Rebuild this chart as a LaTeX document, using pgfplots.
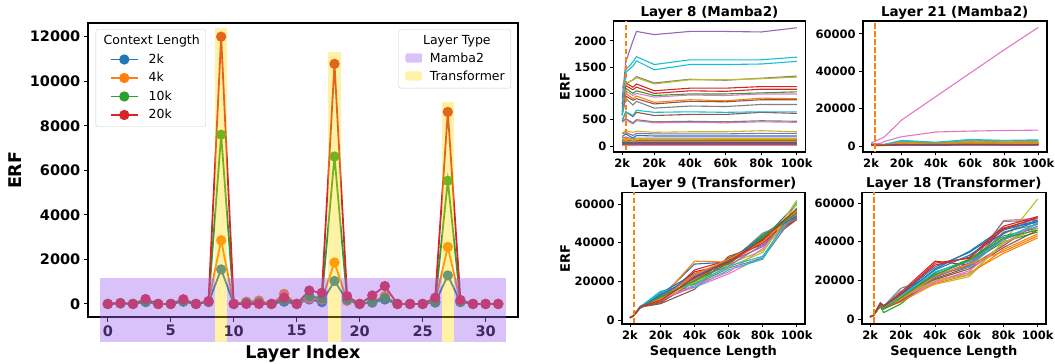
\documentclass[border=0pt]{standalone}
\usepackage{pgfplots}
\pgfplotsset{compat=1.18}
\usepackage{pgfplotstable}
\usepackage{fontspec}
\setmainfont{DejaVu Sans}
\definecolor{tabblue}{HTML}{1F77B4}
\definecolor{taborange}{HTML}{FF7F0E}
\definecolor{tabgreen}{HTML}{2CA02C}
\definecolor{tabred}{HTML}{D62728}
\definecolor{tabpurple}{HTML}{9467BD}
\definecolor{tabbrown}{HTML}{8C564B}
\definecolor{tabpink}{HTML}{E377C2}
\definecolor{tabgray}{HTML}{7F7F7F}
\definecolor{tabolive}{HTML}{BCBD22}
\definecolor{tabcyan}{HTML}{17BECF}
\definecolor{spanpurple}{RGB}{160,100,240}
\definecolor{spanyellow}{RGB}{255,215,0}
\pgfplotscreateplotcyclelist{tabten}{tabblue\\taborange\\tabgreen\\tabred\\tabpurple\\tabbrown\\tabpink\\tabgray\\tabolive\\tabcyan\\}

% ERF per layer, for four context lengths
\pgfplotstableread{
layer c2k c4k c10k c20k
0 0 0 0 0
1 20 30 30 40
2 0 0 0 0
3 80 150 100 220
4 0 0 0 0
5 0 0 0 0
6 100 150 120 210
7 0 0 0 0
8 80 100 100 130
9 1550 2860 7600 12000
10 0 0 0 0
11 30 100 50 0
12 30 150 50 0
13 0 0 0 0
14 100 450 150 280
15 0 0 0 0
16 200 250 350 600
17 80 200 250 500
18 1030 1860 6620 10780
19 150 150 200 350
20 0 0 0 0
21 60 100 100 380
22 200 350 250 800
23 0 0 0 0
24 0 0 0 0
25 0 0 0 0
26 60 100 80 280
27 1280 2560 5530 8620
28 80 100 100 180
29 0 0 0 0
30 0 0 0 0
31 0 0 0 0
}\tabMain

% Layer 8 (Mamba2): x (k) then 32 series
\pgfplotstableread[header=false]{
2 180 650 700 800 900 480 650 1100 1150 600 60 120 40 750 230 600 450 600 250 580 100 80 20 70 150 30 10 470 130 500 50 90
4 230 1000 1100 1200 1600 650 1050 1180 1200 1450 70 140 50 1150 260 950 500 900 290 1400 110 90 25 80 170 35 12 520 150 650 55 100
8 150 900 1000 1120 2000 560 960 1260 1250 1600 50 110 30 1070 200 870 420 780 260 1520 90 70 15 60 130 25 8 440 120 580 45 80
10 200 950 1050 1180 2180 640 1000 1320 1300 1700 60 130 40 1120 240 900 480 850 280 1620 100 80 20 70 150 30 10 500 140 680 50 90
20 190 830 960 1050 2120 580 930 1200 1180 1550 60 120 40 1000 230 800 440 720 260 1450 100 80 20 70 150 30 10 460 130 640 50 90
40 190 880 990 1100 2180 600 970 1270 1260 1640 60 120 40 1050 230 850 450 760 270 1550 100 80 20 70 150 30 10 470 130 650 50 90
60 190 860 990 1100 2180 600 960 1250 1260 1640 60 120 40 1040 230 840 440 750 270 1550 100 80 20 70 150 30 10 460 140 640 50 90
80 190 910 1010 1130 2170 640 990 1290 1280 1640 60 120 40 1080 240 880 460 790 290 1560 100 80 20 70 150 30 10 480 140 650 50 90
100 190 900 1030 1130 2250 620 990 1330 1310 1690 60 120 40 1080 240 880 450 790 270 1610 100 80 20 70 150 30 10 470 140 650 50 90
}\tabEight

% Layer 21 (Mamba2)
\pgfplotstableread[header=false]{
2 600 1000 800 900 700 800 1500 900 800 1200 500 900 700 800 600 700 1000 800 700 1100 400 800 600 700
4 500 700 600 600 500 600 2500 700 600 900 400 700 500 600 500 500 1200 600 600 800 300 600 500 500
8 400 600 500 500 400 500 4000 600 500 700 300 600 400 500 400 400 1500 500 500 700 300 500 400 400
10 500 800 700 600 500 600 5000 700 600 900 400 700 500 600 500 500 2500 600 600 800 300 600 500 500
20 800 2500 1500 1200 900 1400 14000 1800 1600 3000 600 2000 1100 1000 700 1200 5000 1300 1400 2700 500 1800 900 800
40 600 1800 1200 1000 800 1100 26500 1500 1300 2000 500 1500 900 900 600 1000 7500 1100 1200 1800 400 1400 800 700
60 900 2800 1600 1300 1000 1500 39000 2000 1800 3500 700 2300 1200 1100 800 1300 8000 1400 1500 3200 500 2000 1000 900
80 700 2200 1400 1100 900 1300 51500 1800 1600 3000 600 2000 1100 1000 700 1200 8300 1300 1400 2800 500 1800 900 800
100 800 2400 1500 1200 900 1400 63500 1900 1700 3300 600 2100 1100 1000 700 1200 8500 1300 1500 3000 500 1900 900 800
}\tabTwentyOne

% Layer 9 (Transformer)
\pgfplotstableread[header=false]{
2 1300 1250 1300 1350 1300 1200 1300 1300 1250 1300 1280 1300 1320 1300 1310 1280 1300 1290 1300 1320 1300 1270 1310 1300
4 2300 2200 2250 2300 2200 2100 2200 2300 2200 2300 2250 2250 2300 2250 2300 2200 2250 2200 2300 2300 2250 2200 2250 2300
8 6800 6500 6700 6600 6400 6200 6600 7000 6800 7200 6900 6700 6800 6600 6900 6400 6700 6600 6800 7100 6800 6500 6700 6600
10 7600 7400 7800 7500 7300 7000 7700 8000 7900 8200 7800 7600 7700 7500 7900 7200 7600 7500 7700 8100 7700 7400 7600 7500
20 12000 11000 10500 9500 13000 8500 11000 10000 12000 15000 14000 10000 12500 11000 13500 9000 10500 12000 11500 14500 13000 10800 11800 10200
40 29000 30500 22000 26000 23000 16000 17000 18000 20000 17000 24000 21000 19000 25000 21500 20000 18000 24000 19500 18500 22500 23500 20500 22000
60 30000 30000 31000 31000 30000 33000 24000 27000 29000 26000 30000 32000 30000 29000 28000 32000 25000 29500 27500 28000 30500 31500 29500 30200
80 42000 40000 43000 40000 38000 39000 33000 32000 36000 31500 44000 41000 44000 42000 39000 41000 37000 45000 35000 33000 43000 40500 42500 41500
100 60000 55000 57000 53000 54000 52000 58000 56000 62000 61000 55000 53000 56000 52000 54000 53000 55000 52000 60000 58000 54000 56500 55500 57500
}\tabNine

% Layer 18 (Transformer)
\pgfplotstableread[header=false]{
2 1300 1250 1300 1350 1300 1250 1300 1300 1300 1280 1300 1270 1300 1320 1300 1280 1300 1310 1300 1290 1300 1280 1310 1300
4 2000 2000 2100 2100 2000 2000 2100 2100 2000 2050 2000 2050 2050 2100 2050 2000 2050 2100 2000 2050 2050 2000 2100 2100
8 8500 7500 6500 8000 7800 7000 7500 8200 7200 7600 8300 7000 6800 8400 7300 6900 7400 7900 7100 7700 8000 7200 7000 8100
10 7000 6000 3500 6500 6200 5500 6000 6800 5800 6400 7100 5600 5300 6900 5900 5400 6100 6600 5700 6300 6700 5800 5500 6800
20 11000 10000 8000 14000 12000 11000 10000 16000 12500 11500 13000 9000 10500 13500 11000 9500 10800 14500 11800 12300 12800 10200 11200 13000
40 26000 20000 22000 30000 23000 21000 19000 22000 18000 23500 27000 18500 24000 28000 21500 20500 19500 22500 20000 24500 25500 22500 23000 29000
60 35000 24000 29000 28000 30000 27000 24000 28000 22000 27000 34500 23000 31000 32000 29000 26000 25000 27500 23000 30000 33000 28500 30500 31500
80 47000 34000 40000 47000 44000 38000 51000 50500 40000 42000 46000 36000 43000 48000 41000 37000 39000 45000 39500 41500 44500 35000 42000 46500
100 50000 42000 45000 52000 53000 50000 52000 51000 62000 49000 51000 44000 47000 53000 48000 46000 50000 49000 47000 49500 50500 43000 46000 52500
}\tabEighteen

\pgfplotsset{
  subax/.style={
    scale only axis, anchor=south west,
    xmin=-2.9, xmax=104.9,
    xtick={2,20,40,60,80,100}, xticklabels={2k,20k,40k,60k,80k,100k},
    axis line style={line width=1.6pt},
    tick style={black, line width=0.9pt}, tick align=outside, major tick length=3.5pt,
    xtick pos=bottom, ytick pos=left,
    tick label style={font=\fontsize{11.5}{13}\selectfont\bfseries},
    /pgf/number format/assume math mode=true, scaled ticks=false,
    /pgf/number format/1000 sep={},
    every axis title shift=0pt,
    title style={at={(axis description cs:0.5,1)}, anchor=base, yshift=5pt,
      font=\fontsize{13.5}{16}\selectfont\bfseries},
    label style={font=\fontsize{13}{15}\selectfont\bfseries},
    cycle list name=tabten, no markers,
    every axis plot/.append style={line width=1.1pt},
  },
}

\begin{document}
\begin{tikzpicture}
\path[use as bounding box] (0,0) rectangle (1055pt,364pt);

% ---------------- main panel: lines ----------------
\begin{axis}[
  at={(88.3pt,46.7pt)}, anchor=south west,
  scale only axis, width=429.4pt, height=294pt,
  xmin=-1.55, xmax=32.55, ymin=-600, ymax=12600,
  xtick={0,5,...,30}, ytick={0,2000,...,12000},
  axis line style={line width=2.2pt},
  tick style={black, line width=1pt}, tick align=outside, major tick length=4.5pt,
  xtick pos=bottom, ytick pos=left,
  tick label style={font=\fontsize{14.5}{17}\selectfont\bfseries},
  /pgf/number format/assume math mode=true, scaled ticks=false,
  /pgf/number format/1000 sep={},
  xlabel={Layer Index}, ylabel={ERF},
  label style={font=\fontsize{17.5}{20}\selectfont\bfseries},
  xlabel style={at={(axis description cs:0.5,-0.125)}, anchor=center},
  ylabel style={at={(axis description cs:-0.170,0.5)}, anchor=center},
  legend cell align=left,
  legend image code/.code={\path (0pt,0pt); \draw[mark repeat=2,mark phase=2,#1] plot coordinates {(10pt,0pt) (23.5pt,0pt) (37pt,0pt)};},
  legend style={at={(axis description cs:0,1)}, anchor=north west, xshift=7.4pt, yshift=-6pt,
    draw=black!20, rounded corners=2pt, fill=white,
    font=\fontsize{12.5}{15}\selectfont, inner xsep=4pt, inner ysep=4pt,
    row sep=3.5pt, column sep=8pt},
  every axis plot/.append style={line width=1.8pt, mark=*, mark size=4.2pt},
]
\addlegendimage{empty legend}
\addlegendentry{\hspace{-45pt}Context Length}
\addplot[color=tabblue] table[x=layer, y=c2k]{\tabMain};
\addlegendentry{2k}
\addplot[color=taborange] table[x=layer, y=c4k]{\tabMain};
\addlegendentry{4k}
\addplot[color=tabgreen] table[x=layer, y=c10k]{\tabMain};
\addlegendentry{10k}
\addplot[color=tabred] table[x=layer, y=c20k]{\tabMain};
\addlegendentry{20k}
\end{axis}

% ---------------- main panel: layer-type spans ----------------
\begin{axis}[
  at={(88.3pt,46.7pt)}, anchor=south west,
  scale only axis, width=429.4pt, height=294pt,
  xmin=-1.55, xmax=32.55, ymin=-600, ymax=12600,
  hide axis, clip=false,
  legend cell align=left,
  legend image code/.code={\path (0pt,0pt); \fill[#1] (2.7pt,-4pt) rectangle (19.3pt,5.3pt);},
  legend style={at={(axis description cs:1,1)}, anchor=north east, xshift=-6.7pt, yshift=-6pt,
    draw=black!20, rounded corners=2pt, fill=white,
    font=\fontsize{12.5}{15}\selectfont, inner xsep=4pt, inner ysep=4pt,
    row sep=3pt, column sep=5.7pt},
]
\addlegendimage{empty legend}
\addlegendentry{\hspace{-6.7pt}Layer Type}
\addplot[fill=spanpurple, fill opacity=0.4, draw=none] coordinates {(-0.6,-1730) (8.5,-1730) (8.5,1150) (-0.6,1150)} -- cycle;
\addlegendentry{Mamba2}
\addplot[fill=spanyellow, fill opacity=0.35, draw=none] coordinates {(8.5,-1730) (9.5,-1730) (9.5,12400) (8.5,12400)} -- cycle;
\addlegendentry{Transformer}
\addplot[fill=spanpurple, fill opacity=0.4, draw=none, forget plot] coordinates {(9.5,-1730) (17.5,-1730) (17.5,1150) (9.5,1150)} -- cycle;
\addplot[fill=spanpurple, fill opacity=0.4, draw=none, forget plot] coordinates {(18.5,-1730) (26.5,-1730) (26.5,1150) (18.5,1150)} -- cycle;
\addplot[fill=spanpurple, fill opacity=0.4, draw=none, forget plot] coordinates {(27.5,-1730) (31.6,-1730) (31.6,1150) (27.5,1150)} -- cycle;
\addplot[fill=spanyellow, fill opacity=0.35, draw=none, forget plot] coordinates {(17.5,-1730) (18.5,-1730) (18.5,11315) (17.5,11315)} -- cycle;
\addplot[fill=spanyellow, fill opacity=0.35, draw=none, forget plot] coordinates {(26.5,-1730) (27.5,-1730) (27.5,9050) (26.5,9050)} -- cycle;
\end{axis}

% ---------------- Layer 8 ----------------
\begin{axis}[subax, at={(613.5pt,212pt)}, width=192pt, height=130.8pt,
  ymin=-115, ymax=2375, ytick={0,500,1000,1500,2000},
  title={Layer 8 (Mamba2)}, ylabel={ERF},
  ylabel style={at={(axis description cs:-0.253,0.5)}, anchor=center}]
\pgfplotsinvokeforeach{1,...,32}{\addplot table[x index=0, y index=#1]{\tabEight};}
\addplot[color=taborange, line width=2pt, dash pattern=on 5.5pt off 2.5pt, forget plot] coordinates {(4.1,-1000) (4.1,3000)};
\end{axis}

% ---------------- Layer 21 ----------------
\begin{axis}[subax, at={(862.7pt,212pt)}, width=184pt, height=130.8pt,
  ymin=-3200, ymax=66800, ytick={0,20000,40000,60000},
  title={Layer 21 (Mamba2)}]
\pgfplotsinvokeforeach{1,...,24}{\addplot table[x index=0, y index=#1]{\tabTwentyOne};}
\addplot[color=taborange, line width=2pt, dash pattern=on 5.5pt off 2.5pt, forget plot] coordinates {(4.1,-10000) (4.1,80000)};
\end{axis}

% ---------------- Layer 9 ----------------
\begin{axis}[subax, at={(621.7pt,40pt)}, width=183.4pt, height=131.5pt,
  ymin=-2000, ymax=66000, ytick={0,20000,40000,60000},
  title={Layer 9 (Transformer)}, ylabel={ERF}, xlabel={Sequence Length},
  ylabel style={at={(axis description cs:-0.309,0.5)}, anchor=center},
  xlabel style={at={(axis description cs:0.5,-0.21)}, anchor=center}]
\pgfplotsinvokeforeach{1,...,24}{\addplot table[x index=0, y index=#1]{\tabNine};}
\addplot[color=taborange, line width=2pt, dash pattern=on 5.5pt off 2.5pt, forget plot] coordinates {(4.1,-10000) (4.1,80000)};
\end{axis}

% ---------------- Layer 18 ----------------
\begin{axis}[subax, at={(861.7pt,40pt)}, width=184.3pt, height=131.5pt,
  ymin=-2400, ymax=65400, ytick={0,20000,40000,60000},
  title={Layer 18 (Transformer)}, xlabel={Sequence Length},
  xlabel style={at={(axis description cs:0.5,-0.21)}, anchor=center}]
\pgfplotsinvokeforeach{1,...,24}{\addplot table[x index=0, y index=#1]{\tabEighteen};}
\addplot[color=taborange, line width=2pt, dash pattern=on 5.5pt off 2.5pt, forget plot] coordinates {(4.1,-10000) (4.1,80000)};
\end{axis}
\end{tikzpicture}
\end{document}
